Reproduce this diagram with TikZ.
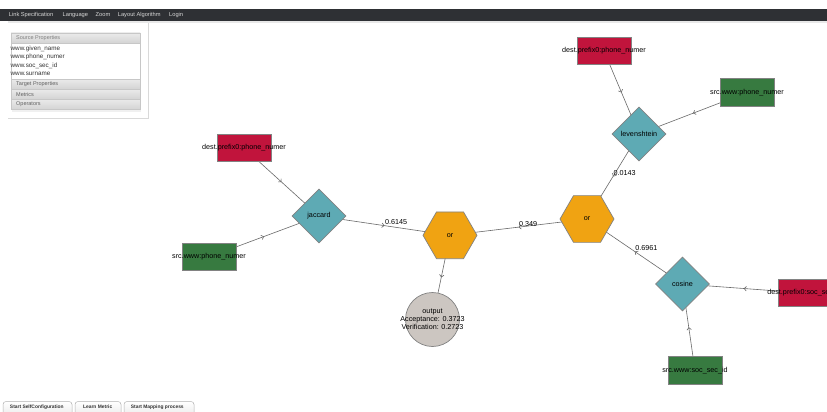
\documentclass[tikz,border=0pt]{standalone}
\usepackage{fontspec}
\setmainfont{Liberation Sans}
\usetikzlibrary{shapes.geometric,arrows.meta,decorations.markings,backgrounds}

\definecolor{cred}{RGB}{193,20,60}
\definecolor{cgreen}{RGB}{55,122,64}
\definecolor{cteal}{RGB}{94,170,180}
\definecolor{corange}{RGB}{240,163,18}
\definecolor{cgray}{RGB}{204,198,193}
\definecolor{cborder}{RGB}{130,130,130}
\definecolor{cedge}{RGB}{105,105,105}
\definecolor{cbar}{RGB}{46,48,52}
\definecolor{cmenu}{RGB}{215,215,215}

\begin{document}
\begin{tikzpicture}[x=1pt,y=-1pt,
  font=\fontsize{7.2}{8}\selectfont,
  srcbox/.style={rectangle, draw=cborder, line width=0.7pt, fill=cgreen, minimum width=54pt, minimum height=27.5pt, inner sep=0pt},
  dstbox/.style={srcbox, fill=cred},
  metric/.style={diamond, draw=cborder, line width=0.7pt, fill=cteal, minimum width=54pt, minimum height=54pt, inner sep=0pt},
  oper/.style={regular polygon, regular polygon sides=6, draw=cborder, line width=0.7pt, fill=corange, minimum size=54pt, inner sep=0pt},
  outnode/.style={circle, draw=cborder, line width=0.7pt, fill=cgray, minimum size=54pt, inner sep=0pt},
  edge/.style={draw=cedge, line width=0.6pt, postaction={decorate},
    decoration={markings, mark=at position 0.5 with {\arrow{Straight Barb[length=2.2pt,width=4.5pt]}}}},
  elabel/.style={anchor=south west, inner sep=0.3pt, text=black},
  menu/.style={anchor=west, inner sep=0pt, text=cmenu, font=\fontsize{5.7}{6}\selectfont},
  hdr/.style={rectangle, draw=black!22, top color=black!8, bottom color=black!17, line width=0.5pt},
  hdrtext/.style={anchor=west, inner sep=0pt, text=black!62, font=\fontsize{5.5}{6}\selectfont},
  item/.style={anchor=west, inner sep=0pt, text=black!80, font=\fontsize{6.3}{7}\selectfont},
  btn/.style={draw=black!30, top color=white, bottom color=black!8, rounded corners=3pt, line width=0.5pt},
  btntext/.style={inner sep=0pt, text=black!80, font=\bfseries\fontsize{4.9}{5.5}\selectfont}
]
\useasboundingbox (0,0) rectangle (827,412);
\clip (0,0) rectangle (827,412);
\begin{scope}[on background layer]
  \fill[white] (0,0) rectangle (827,412);
\end{scope}

% ---- top menu bar
\fill[cbar] (0,9) rectangle (827,20.7);
\fill[black!9] (8,20.7) rectangle (827,23.5);
\node[menu] (m1) at (8.7,14.8) {Link Specification};
\node[menu] (m2) at (62.5,14.8) {Language};
\node[menu] (m3) at (95.5,14.8) {Zoom};
\node[menu] (m4) at (117.7,14.8) {Layout Algorithm};
\node[menu] (m5) at (169,14.8) {Login};

% ---- left panel
\draw[black!15, line width=0.8pt] (148,23.5) -- (148,118.6) -- (8,118.6);
\fill[black!6] (12,110) rectangle (141,111.5);
\draw[hdr] (11,33) rectangle (140,43);
\node[hdrtext, text=black!50] (h1) at (16,38.2) {Source Properties};
\draw[draw=black!22, fill=white, line width=0.5pt] (11,43) rectangle (140,79);
\node[item] (i1) at (10.5,48.7) {www.given\_name};
\node[item] (i2) at (10.5,57.2) {www.phone\_numer};
\node[item] (i3) at (10.5,65.7) {www.soc\_sec\_id};
\node[item] (i4) at (10.5,74.2) {www.surname};
\draw[hdr] (11,79) rectangle (140,89);
\node[hdrtext] (h2) at (16,84.2) {Target Properties};
\draw[hdr] (11,89) rectangle (140,99);
\node[hdrtext] (h3) at (16,94.2) {Metrics};
\draw[hdr] (11,99) rectangle (140,109.5);
\node[hdrtext] (h4) at (16,104.4) {Operators};

% ---- bottom buttons
\draw[btn] (3,416) rectangle (72,401.5);
\draw[btn] (75,416) rectangle (121,401.5);
\draw[btn] (124,416) rectangle (194,401.5);
\node[btntext] (b1) at (36.8,407.2) {Start SelfConfiguration};
\node[btntext] (b2) at (97.7,407.2) {Learn Metric};
\node[btntext] (b3) at (157.3,407.2) {Start Mapping process};

% ---- graph nodes
\node[dstbox] (d1) at (244,148) {\makebox[0pt]{dest.prefix0:phone\_numer}};
\node[srcbox] (s1) at (209,257) {\makebox[0pt]{src.www:phone\_numer}};
\node[metric] (jac) at (319,216) {jaccard};
\node[oper] (or1) at (450,235.3) {or};
\node[outnode] (out) at (432.5,319.5) {\makebox[0pt]{\begin{tabular}{@{}c@{}}output\\Acceptance: 0.3723\\Verification: 0.2723\end{tabular}}};
\node[oper] (or2) at (587,219) {or};
\node[metric] (lev) at (639,134) {levenshtein};
\node[dstbox] (d2) at (604,51) {\makebox[0pt]{dest.prefix0:phone\_numer}};
\node[srcbox] (s2) at (747,92.5) {\makebox[0pt]{src.www:phone\_numer}};
\node[metric] (cos) at (682.5,284) {cosine};
\node[dstbox] (d3) at (805,293) {\makebox[0pt]{dest.prefix0:soc\_sec\_id}};
\node[srcbox] (s3) at (695,370.5) {\makebox[0pt]{src.www:soc\_sec\_id}};

% ---- connectors
\begin{scope}[on background layer]
  \draw[edge] (d1.center) -- (jac.center);
  \draw[edge] (s1.center) -- (jac.center);
  \draw[edge] (jac.center) -- node[elabel] (l1) {0.6145} (or1.center);
  \draw[edge] (or1.center) -- (out.center);
  \draw[edge] (or2.center) -- node[elabel] (l2) {0.349} (or1.center);
  \draw[edge] (lev.center) -- node[elabel] (l3) {0.0143} (or2.center);
  \draw[edge] (cos.center) -- node[elabel] (l4) {0.6961} (or2.center);
  \draw[edge] (d2.center) -- (lev.center);
  \draw[edge] (s2.center) -- (lev.center);
  \draw[edge] (d3.center) -- (cos.center);
  \draw[edge] (s3.center) -- (cos.center);
\end{scope}
\end{tikzpicture}
\end{document}
